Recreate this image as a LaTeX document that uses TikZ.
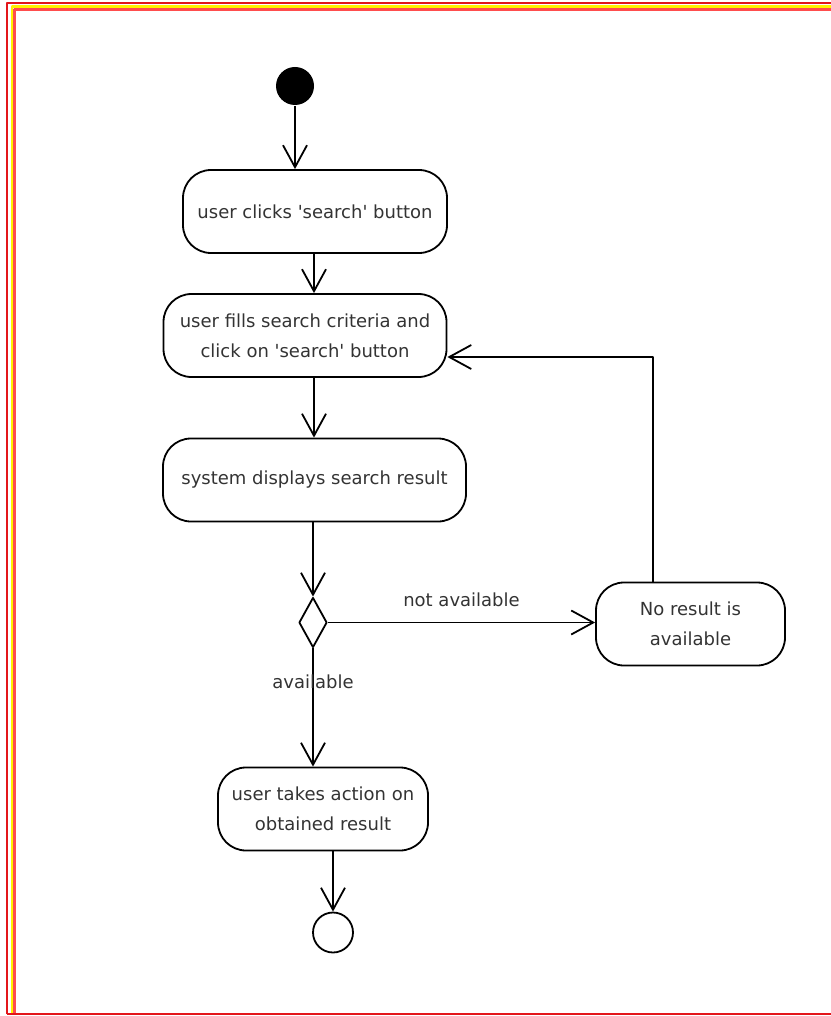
\documentclass[tikz,border=0pt]{standalone}
\usepackage{fontspec}
\setmainfont{DejaVu Sans}
\usetikzlibrary{positioning,shapes.geometric,arrows.meta,calc}
\definecolor{framered}{HTML}{E3161B}
\definecolor{framepink}{HTML}{FF4D4D}
\definecolor{frameyellow}{HTML}{FFF200}
\definecolor{textgray}{HTML}{333333}
\tikzstyle{activity} = [draw, rounded corners=14pt, minimum height=41.5pt,
                        align=center, inner sep=0, text=textgray,
                        font=\fontsize{9}{15}\selectfont]
\tikzstyle{start}    = [circle, fill=black, minimum size=19pt, inner sep=0]
\tikzstyle{stop}     = [circle, draw, minimum size=20pt, inner sep=0]
\tikzstyle{decision} = [diamond, draw, minimum width=14pt, minimum height=25pt,
                        inner sep=0]
\tikzstyle{guard}    = [text=textgray, font=\fontsize{9}{15}\selectfont]
\newcommand{\sq}{\textquotesingle}
\begin{document}
\begin{tikzpicture}[
    x=0.5pt, y=-0.5pt,
    ->,
    >={Straight Barb[length=11pt,width=12pt]},
    line width=0.9pt,
    line join=round
]
   \useasboundingbox (0,0) rectangle (830,1016);

   % frame
   \draw[-,framered,line width=1pt] (7,1014) -- (7,3.5) -- (840,3.5)
                                    (7,1014) -- (840,1014);
   \draw[-,frameyellow,line width=1.2pt] (12,1013) -- (12,6.5) -- (840,6.5);
   \draw[-,framepink,line width=1.2pt] (14.5,1013) -- (14.5,9.5) -- (840,9.5);

   \node[start]    (init)     at (295,86)     {};
   \node[activity,minimum width=132pt]   (clicks)   at (315,211.5) {user clicks \sq search\sq\ button};
   \node[activity,minimum width=141.5pt] (fills)    at (305,335.5) {user fills search criteria and\\click on \sq search\sq\ button};
   \node[activity,minimum width=151.5pt] (displays) at (314.5,480) {system displays search result};
   \node[decision] (check)    at (313,622.5)  {};
   \node[activity,minimum width=94.5pt]  (noresult) at (690.5,624) {No result is\\available};
   \node[activity,minimum width=105pt]   (action)   at (323,809)   {user takes action on\\obtained result};
   \node[stop]     (final)    at (333,932.5)  {};

   \coordinate (back) at (653,357);

   \draw (init) -- (init |- clicks.north);
   \draw (clicks.south -| 314,0) -- (fills.north -| 314,0);
   \draw (fills.south -| 314,0) -- (displays.north -| 314,0);
   \draw (displays.south -| check.north) -- (check.north);
   \draw (check.east) -- node[guard,above=4pt] {not available} (check.east -| noresult.west);
   \draw (check.south) -- node[guard,pos=0.28] {available} (check.south |- action.north);
   \draw (action.south -| final.north) -- (final.north);
   \draw (noresult.north -| back) -- (back) -- (back -| fills.east);

\end{tikzpicture}
\end{document}
